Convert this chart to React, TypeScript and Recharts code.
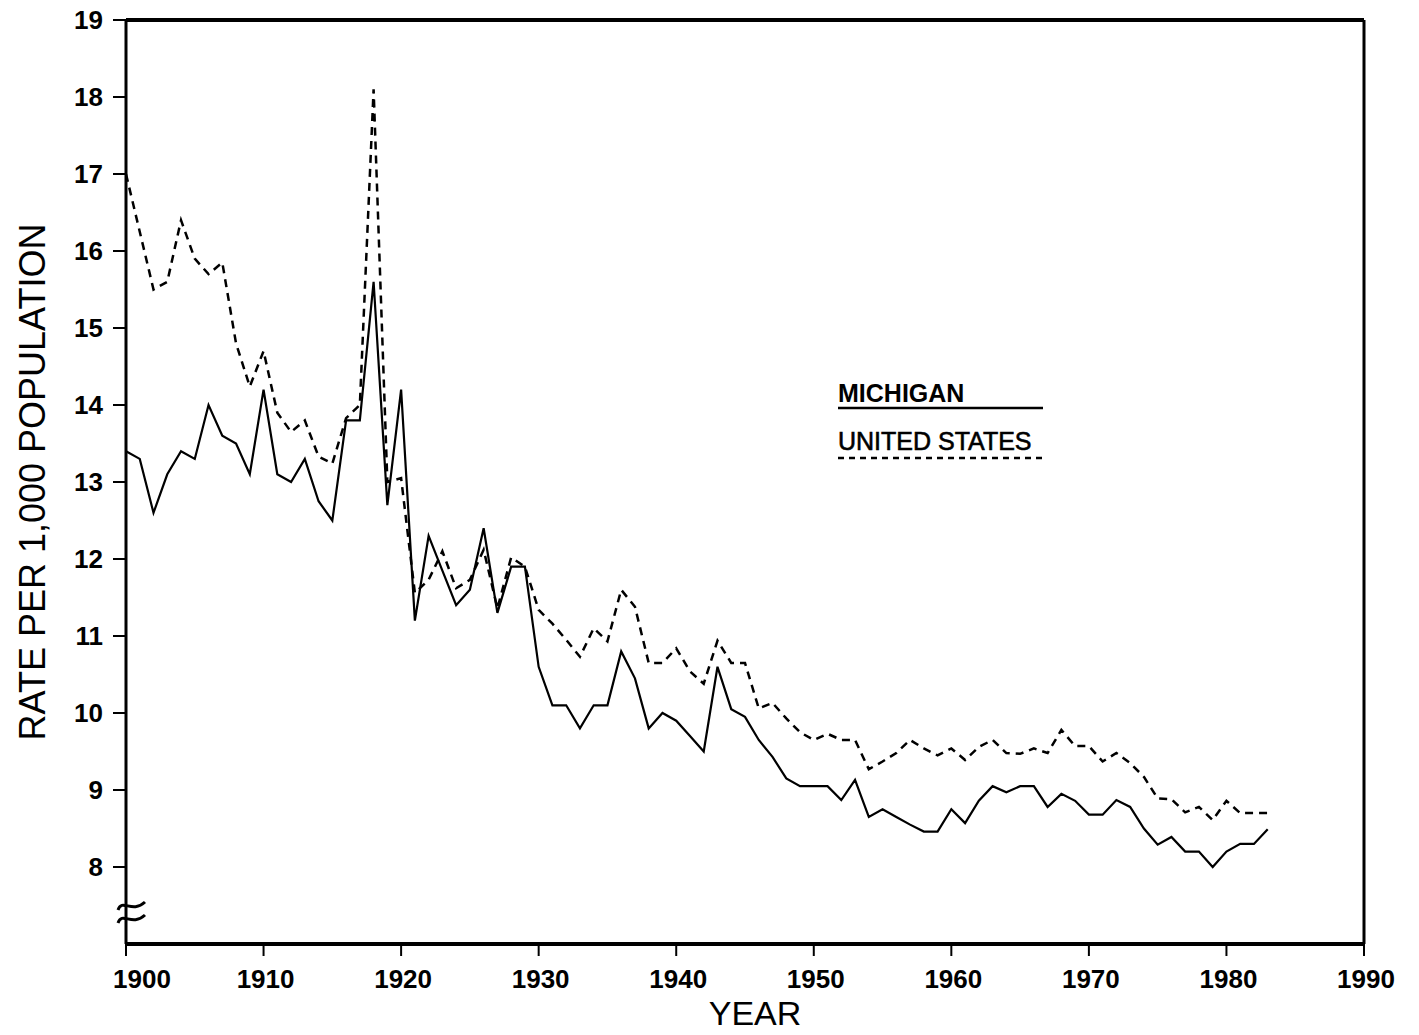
import { LineChart, Line, XAxis, YAxis, ReferenceLine } from 'recharts'

const years = Array.from({ length: 84 }, (_, i) => 1900 + i)

const michigan = [
  13.4, 13.3, 12.6, 13.1, 13.4, 13.3, 14.0, 13.6, 13.5, 13.1,
  14.2, 13.1, 13.0, 13.3, 12.75, 12.5, 13.8, 13.8, 15.6, 12.7,
  14.2, 11.2, 12.3, 11.85, 11.4, 11.6, 12.4, 11.3, 11.9, 11.9,
  10.6, 10.1, 10.1, 9.8, 10.1, 10.1, 10.8, 10.45, 9.8, 10.0,
  9.9, 9.7, 9.5, 10.6, 10.05, 9.95, 9.65, 9.43, 9.15, 9.05,
  9.05, 9.05, 8.87, 9.13, 8.65, 8.75, 8.65, 8.55, 8.46, 8.46,
  8.75, 8.57, 8.86, 9.05, 8.97, 9.05, 9.05, 8.78, 8.95, 8.86,
  8.68, 8.68, 8.87, 8.78, 8.5, 8.29, 8.39, 8.2, 8.2, 8.0,
  8.2, 8.3, 8.3, 8.49,
]

const unitedStates = [
  17.0, 16.25, 15.5, 15.6, 16.4, 15.9, 15.7, 15.85, 14.8, 14.24,
  14.7, 13.9, 13.65, 13.8, 13.33, 13.24, 13.83, 14.0, 18.1, 13.0,
  13.05, 11.56, 11.73, 12.1, 11.62, 11.73, 12.12, 11.36, 12.02, 11.9,
  11.34, 11.16, 10.95, 10.73, 11.1, 10.93, 11.6, 11.38, 10.65, 10.65,
  10.84, 10.54, 10.38, 10.94, 10.65, 10.65, 10.06, 10.13, 9.93, 9.75,
  9.65, 9.73, 9.65, 9.65, 9.27, 9.37, 9.48, 9.65, 9.54, 9.45,
  9.54, 9.39, 9.56, 9.65, 9.48, 9.47, 9.54, 9.48, 9.78, 9.57,
  9.57, 9.37, 9.48, 9.35, 9.17, 8.89, 8.88, 8.71, 8.78, 8.61,
  8.86, 8.7, 8.7, 8.7,
]

const xTicks = [1900, 1910, 1920, 1930, 1940, 1950, 1960, 1970, 1980, 1990]
const yTicks = [8, 9, 10, 11, 12, 13, 14, 15, 16, 17, 18, 19]

const data = years.map((year, i) => ({
  year,
  michigan: michigan[i],
  us: unitedStates[i],
}))

const font = '"Liberation Sans", Arial, sans-serif'

function YearTick({ x, y, payload }: any) {
  const shift = payload.value === 1900 ? 16 : 2
  return (
    <text x={x + shift} y={y} dy="0.71em" textAnchor="middle" fontSize={26} fontWeight="bold" fill="#000" fontFamily={font}>
      {payload.value}
    </text>
  )
}

// key drawn over the plot, same spot as the original
function KeyBox() {
  return (
    <svg width={230} height={90} style={{ position: 'absolute', left: 838, top: 378 }}>
      <text x={0} y={24} fontSize={25} fontWeight="bold" fontFamily={font} fill="#000">MICHIGAN</text>
      <line x1={0} x2={205} y1={30} y2={30} stroke="#000" strokeWidth={2.5} />
      <text x={0} y={72} fontSize={25} fontFamily={font} fill="#000" stroke="#000" strokeWidth={0.6}>UNITED STATES</text>
      <line x1={0} x2={205} y1={80} y2={80} stroke="#000" strokeWidth={2.5} strokeDasharray="6 5" />
    </svg>
  )
}

export default function App() {
  return (
    <div style={{ position: 'absolute', left: 0, top: 0, width: 1419, height: 1035, background: '#fff', fontFamily: font }}>
      <LineChart width={1419} height={1035} data={data} margin={{ top: 20, right: 55, bottom: 0, left: 0 }}>
        <XAxis
          dataKey="year"
          type="number"
          domain={[1900, 1990]}
          ticks={xTicks}
          height={91}
          tick={<YearTick />}
          tickSize={12}
          tickMargin={14}
          axisLine={{ stroke: '#000', strokeWidth: 4 }}
          tickLine={{ stroke: '#000', strokeWidth: 2 }}
          label={{ value: 'YEAR', position: 'insideBottom', offset: 10, dx: 10, fontSize: 34, fill: '#000', fontFamily: font }}
        />
        <YAxis
          type="number"
          domain={[7, 19]}
          ticks={yTicks}
          width={126}
          tickSize={13}
          tickMargin={10}
          tick={{ fontSize: 26, fontWeight: 'bold', fill: '#000', fontFamily: font }}
          axisLine={{ stroke: '#000', strokeWidth: 3 }}
          tickLine={{ stroke: '#000', strokeWidth: 2 }}
          label={{ value: 'RATE PER 1,000 POPULATION', angle: -90, position: 'insideLeft', offset: 32, fontSize: 36, fill: '#000', fontFamily: font, style: { textAnchor: 'middle' } }}
        />
        <ReferenceLine y={19} stroke="#000" strokeWidth={4} />
        <ReferenceLine x={1990} stroke="#000" strokeWidth={3} />
        <Line type="linear" dataKey="michigan" name="MICHIGAN" stroke="#000" strokeWidth={2.2} dot={false} isAnimationActive={false} />
        <Line type="linear" dataKey="us" name="UNITED STATES" stroke="#000" strokeWidth={2.5} strokeDasharray="8 6" dot={false} isAnimationActive={false} />
      </LineChart>
      <KeyBox />
      <svg width={60} height={60} style={{ position: 'absolute', left: 100, top: 880, pointerEvents: 'none' }}>
        <path d="M18 30 C22 18, 32 34, 45 22" fill="none" stroke="#000" strokeWidth={3} />
        <path d="M18 43 C22 31, 32 47, 45 35" fill="none" stroke="#000" strokeWidth={3} />
      </svg>
    </div>
  )
}
